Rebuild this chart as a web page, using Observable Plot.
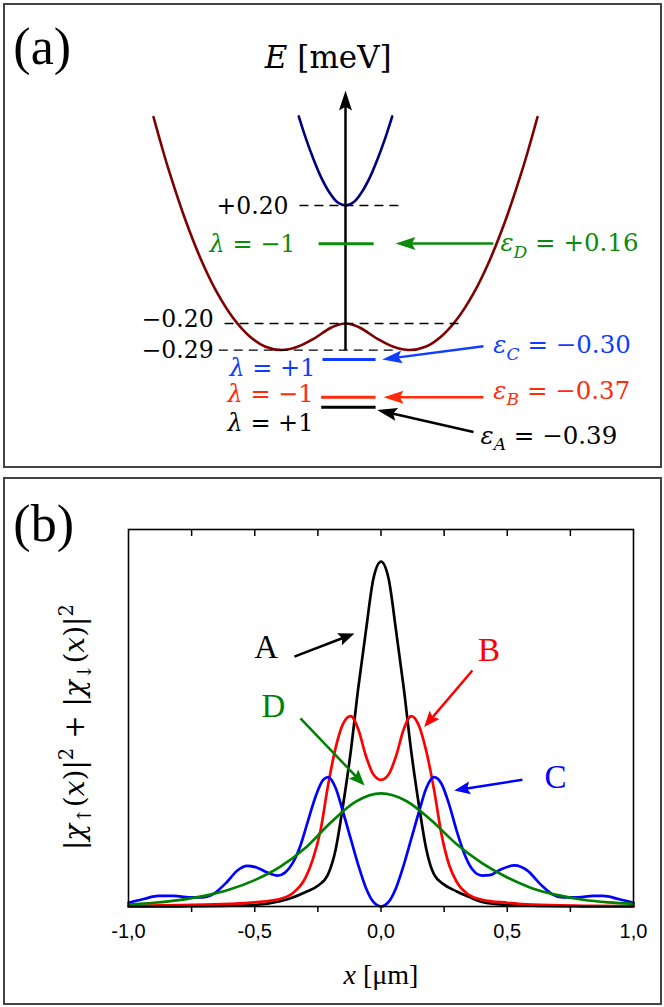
<!DOCTYPE html>
<html><head><meta charset="utf-8">
<script src="https://cdn.jsdelivr.net/npm/d3@7"></script>
<script src="https://cdn.jsdelivr.net/npm/@observablehq/plot@0.6"></script>
<style>
body{margin:0;background:#fff;}
#wrap{position:relative;width:664px;height:1007px;overflow:hidden;background:#fff;}
.box{position:absolute;border:2px solid #444;box-sizing:border-box;}
#pa{position:absolute;left:0;top:0;}
#pb{position:absolute;left:0;top:470px;}
</style></head><body><div id="wrap">
<div class="box" style="left:3px;top:3px;width:659px;height:465px"></div>
<div class="box" style="left:3px;top:477px;width:659px;height:528px"></div>
<div id="pa"></div><div id="pb"></div>
</div>
<script>
// ---------------- Panel (a): dispersion sketch ----------------
const lowerK = [-3.0,-2.875,-2.75,-2.5,-2.25,-2.0,-1.75,-1.5,-1.25,-1.0,-0.75,-0.5,-0.25,-0.125,0,0.125,0.25,0.5,0.75,1.0,1.25,1.5,1.75,2.0,2.25,2.5,2.75,2.875,3.0];
const lowerE = [0.50,0.403,0.312,0.150,0.013,-0.098,-0.183,-0.243,-0.279,-0.290,-0.279,-0.252,-0.217,-0.205,-0.200,-0.205,-0.217,-0.252,-0.279,-0.290,-0.279,-0.243,-0.183,-0.098,0.013,0.150,0.312,0.403,0.50];
const upperK = [-0.73,-0.625,-0.5,-0.375,-0.25,-0.125,0,0.125,0.25,0.375,0.5,0.625,0.73];
const upperE = [0.502,0.431,0.357,0.293,0.244,0.211,0.200,0.211,0.244,0.293,0.357,0.431,0.502];

const guideE = [0.20,-0.20,-0.29];
const guideK1 = [-0.72,-1.89,-1.98];
const guideK2 = [0.906,1.84,0.83];
const guideLabelK = [-0.89,-2.06,-2.06];
const guideLabelE = [0.198,-0.185,-0.29];

const axisBottomE = -0.29, axisTopE = 0.59;

const stateNames = ["D","C","B","A"];
const stateColors = ["#0b8a0b","#0f3cff","#ff2b0b","#000000"];
const stateEps = [0.16,-0.30,-0.37,-0.39];
const stateLambda = [-1,1,-1,1];
const levelE = [0.07,-0.322,-0.45,-0.484];       // schematic drawn level position
const levelK1 = [-0.42,-0.36,-0.38,-0.38];
const levelK2 = [0.44,0.47,0.47,0.47];
const lambdaK = [-0.78,-0.47,-0.50,-0.50];
const lambdaE = [0.07,-0.352,-0.440,-0.540];
const epsK = [2.42,2.31,2.31,2.11];
const epsE = [0.071,-0.275,-0.43,-0.583];
const arrFromK = [2.31,2.156,2.156,2.0];
const arrFromE = [0.0712,-0.277,-0.45,-0.568];
const arrToK = [0.78,0.573,0.594,0.495];
const arrToE = [0.0712,-0.322,-0.45,-0.493];

// ---------------- Panel (b): probability densities ----------------
const xA = [-1,-0.8,-0.6,-0.5,-0.4,-0.35,-0.3,-0.25,-0.21,-0.18,-0.15,-0.12,-0.09,-0.06,-0.03,0,0.03,0.06,0.09,0.12,0.15,0.18,0.21,0.25,0.3,0.35,0.4,0.5,0.6,0.8,1];
const yA = [0,0.0005,0.002,0.004,0.014,0.024,0.038,0.055,0.085,0.15,0.27,0.41,0.58,0.73,0.87,0.915,0.87,0.73,0.58,0.41,0.27,0.15,0.085,0.058,0.04,0.025,0.012,0.004,0.002,0.0005,0];
const xB = [-1,-0.8,-0.6,-0.5,-0.4,-0.35,-0.3,-0.27,-0.24,-0.21,-0.18,-0.15,-0.12,-0.09,-0.06,-0.03,0,0.03,0.06,0.09,0.12,0.15,0.18,0.21,0.24,0.27,0.3,0.35,0.4,0.5,0.6,0.8,1];
const yB = [0.002,0.004,0.007,0.011,0.02,0.035,0.075,0.125,0.2,0.32,0.42,0.485,0.505,0.47,0.40,0.35,0.336,0.35,0.40,0.47,0.505,0.48,0.41,0.31,0.19,0.11,0.065,0.03,0.018,0.010,0.005,0.002,0.001];
const xC = [-1,-0.94,-0.88,-0.82,-0.76,-0.71,-0.66,-0.61,-0.57,-0.53,-0.49,-0.45,-0.41,-0.38,-0.35,-0.32,-0.29,-0.26,-0.23,-0.21,-0.18,-0.15,-0.12,-0.09,-0.06,-0.03,0,0.03,0.06,0.09,0.12,0.15,0.18,0.21,0.24,0.27,0.30,0.33,0.36,0.40,0.43,0.47,0.53,0.58,0.63,0.68,0.72,0.78,0.84,0.88,0.94,1];
const yC = [0.01,0.02,0.028,0.028,0.024,0.024,0.035,0.065,0.095,0.108,0.103,0.09,0.082,0.09,0.115,0.16,0.225,0.29,0.335,0.343,0.315,0.25,0.18,0.11,0.05,0.012,0,0.012,0.05,0.11,0.18,0.25,0.315,0.343,0.325,0.27,0.20,0.14,0.10,0.082,0.083,0.097,0.109,0.095,0.06,0.032,0.024,0.024,0.028,0.028,0.02,0.01];
const xD = [-1,-0.9,-0.8,-0.7,-0.6,-0.5,-0.4,-0.3,-0.2,-0.1,0,0.1,0.2,0.3,0.4,0.5,0.6,0.7,0.8,0.9,1];
const yD = [0.005,0.01,0.017,0.028,0.045,0.07,0.105,0.155,0.222,0.278,0.30,0.28,0.228,0.165,0.115,0.077,0.048,0.03,0.018,0.011,0.007];
const curveColors = {A:"#000000", B:"#ff0000", C:"#0000ff", D:"#008000"};

const xMajor = [-1,-0.5,0,0.5,1];
const xMinor = [-0.75,-0.5,-0.25,0,0.25,0.5,0.75];

const annLabelX = [-0.455,0.428,0.691,-0.426];
const annLabelY = [0.688,0.679,0.343,0.53];
const annFromX = [-0.343,0.362,0.560,-0.319];
const annFromY = [0.663,0.626,0.336,0.499];
const annToX = [-0.105,0.171,0.29,-0.065];
const annToY = [0.724,0.476,0.308,0.321];
const annNames = ["A","B","C","D"];

// ---------------- helpers ----------------
const SERIF = "Liberation Serif, Times New Roman, serif";
const MATH = "DejaVu Serif, serif";
const SANS = "Liberation Sans, Arial, sans-serif";
const sgn = v => (v > 0 ? "+" : "\u2212") + Math.abs(v).toFixed(2);
const sgnInt = v => (v > 0 ? "+" : "\u2212") + Math.abs(v);

function arrowMarks(arrows, sx, sy, {len, half, width}) {
  const shafts = [], heads = [];
  arrows.forEach((a, i) => {
    const p1 = [sx.apply(a.x1), sy.apply(a.y1)], p2 = [sx.apply(a.x2), sy.apply(a.y2)];
    const dx = p2[0]-p1[0], dy = p2[1]-p1[1], L = Math.hypot(dx, dy);
    const ux = dx/L, uy = dy/L, nx = -uy, ny = ux;
    const bx = p2[0]-ux*len, by = p2[1]-uy*len;
    const notch = [p2[0]-ux*len*0.82, p2[1]-uy*len*0.82];
    const pts = [p2, [bx+nx*half, by+ny*half], notch, [bx-nx*half, by-ny*half]];
    pts.forEach(p => heads.push({id: i, x: sx.invert(p[0]), y: sy.invert(p[1]), color: a.color}));
    shafts.push({x1: a.x1, y1: a.y1, x2: sx.invert(notch[0]+ux*2), y2: sy.invert(notch[1]+uy*2), color: a.color});
  });
  return [
    Plot.link(shafts, {x1: "x1", y1: "y1", x2: "x2", y2: "y2", stroke: "color", strokeWidth: width, strokeLinecap: "butt"}),
    Plot.line(heads, {x: "x", y: "y", z: "id", fill: "color", stroke: "none", curve: "linear-closed"})
  ];
}

function parseRich(s) {
  const segs = []; let i = 0, italic = false, buf = "";
  const push = (text, it, shift) => { if (text) segs.push({text, italic: it, shift}); };
  while (i < s.length) {
    const c = s[i];
    if (c === "*") { push(buf, italic, 0); buf = ""; italic = !italic; i++; }
    else if ((c === "_" || c === "^") && s[i+1] === "{") {
      push(buf, italic, 0); buf = "";
      const j = s.indexOf("}", i);
      push(s.slice(i+2, j), c === "_", c === "_" ? 1 : -1);
      i = j + 1;
    } else { buf += c; i++; }
  }
  push(buf, italic, 0);
  return segs;
}
function richify(svg) {
  svg.querySelectorAll("text").forEach(t => {
    const s = t.textContent;
    if (!/[*]|_\{|\^\{/.test(s)) return;
    const fs = parseFloat(getComputedStyle(t).fontSize) || 16;
    const segs = parseRich(s);
    t.textContent = "";
    let cur = 0;
    segs.forEach(seg => {
      const ts = document.createElementNS("http://www.w3.org/2000/svg", "tspan");
      ts.textContent = seg.text;
      if (seg.italic) ts.setAttribute("font-style", "italic");
      const target = seg.shift === 1 ? 0.25*fs : seg.shift === -1 ? -0.4*fs : 0;
      if (seg.shift) ts.setAttribute("font-size", (0.7*fs) + "px");
      if (target !== cur) { ts.setAttribute("dy", target - cur); cur = target; }
      t.appendChild(ts);
    });
  });
}

// ---------------- build panel (a) ----------------
const axOpt = {domain: [-1, 1], range: [281, 409]};
const ayOpt = {domain: [-0.2, 0.2], range: [323, 205]};
const sxA = Plot.scale({x: axOpt}), syA = Plot.scale({y: ayOpt});

const lowerData = lowerK.map((k, i) => ({k, E: lowerE[i]}));
const upperData = upperK.map((k, i) => ({k, E: upperE[i]}));
const guides = guideE.map((E, i) => ({E, k1: guideK1[i], k2: guideK2[i], lk: guideLabelK[i], lE: guideLabelE[i], label: sgn(E)}));
const states = stateNames.map((n, i) => ({
  n, color: stateColors[i], E: levelE[i], k1: levelK1[i], k2: levelK2[i],
  lk: lambdaK[i], lE: lambdaE[i], lt: "*λ* = " + sgnInt(stateLambda[i]),
  ek: epsK[i], eE: epsE[i], et: "*ε*_{" + n + "} = " + sgn(stateEps[i])
}));
const arrowsA = states.map((s, i) => ({x1: arrFromK[i], y1: arrFromE[i], x2: arrToK[i], y2: arrToE[i], color: s.color}));
const axisArrow = [{x1: 0, y1: axisBottomE, x2: 0, y2: axisTopE, color: "#000"}];

const plotA = Plot.plot({
  width: 664, height: 470, margin: 0,
  x: {...axOpt, axis: null}, y: {...ayOpt, axis: null},
  color: {type: "identity"},
  style: {background: "transparent", overflow: "visible"},
  marks: [
    Plot.line(lowerData, {x: "k", y: "E", stroke: "#7f0000", strokeWidth: 2.6, curve: "catmull-rom"}),
    Plot.line(upperData, {x: "k", y: "E", stroke: "#00007f", strokeWidth: 2.6, curve: "catmull-rom"}),
    Plot.link(guides, {x1: "k1", x2: "k2", y1: "E", y2: "E", stroke: "#000", strokeWidth: 1.3, strokeDasharray: "9,6"}),
    ...arrowMarks(axisArrow, sxA, syA, {len: 20, half: 6.5, width: 2.5}),
    Plot.link(states, {x1: "k1", x2: "k2", y1: "E", y2: "E", stroke: "color", strokeWidth: 3}),
    ...arrowMarks(arrowsA, sxA, syA, {len: 20, half: 6.5, width: 2.5}),
    Plot.text(guides, {x: "lk", y: "lE", text: "label", textAnchor: "end", fontSize: 23.5, fontFamily: MATH, fill: "#000"}),
    Plot.text(states, {x: "lk", y: "lE", text: "lt", textAnchor: "end", fontSize: 24, fontFamily: MATH, fill: "color"}),
    Plot.text(states, {x: "ek", y: "eE", text: "et", textAnchor: "start", fontSize: 24.5, fontFamily: MATH, fill: "color"}),
    Plot.text(["*E* [meV]"], {x: -0.27, y: 0.70, text: d => d, fontSize: 31, fontFamily: MATH, fill: "#000"}),
    Plot.text(["(a)"], {x: -5.19, y: 0.736, text: d => d, textAnchor: "start", fontSize: 52, fontFamily: SERIF, fill: "#000"})
  ]
});
document.getElementById("pa").appendChild(plotA);
richify(plotA);

// ---------------- build panel (b) ----------------
const mB = {marginLeft: 128, marginRight: 31, marginTop: 59, marginBottom: 101};
const hB = 537;
const sxB = Plot.scale({x: {domain: [-1, 1], range: [mB.marginLeft, 664 - mB.marginRight]}});
const syB = Plot.scale({y: {domain: [0, 1], range: [hB - mB.marginBottom, mB.marginTop]}});
const tickIn = syB.invert(mB.marginTop + 7);
const tickOut = syB.invert(hB - mB.marginBottom + 6);

const series = [
  ...xA.map((x, i) => ({s: "A", x, y: yA[i]})),
  ...xB.map((x, i) => ({s: "B", x, y: yB[i]})),
  ...xC.map((x, i) => ({s: "C", x, y: yC[i]})),
  ...xD.map((x, i) => ({s: "D", x, y: yD[i]}))
];
const anns = annNames.map((n, i) => ({n, color: curveColors[n], lx: annLabelX[i], ly: annLabelY[i]}));
const arrowsB = annNames.map((n, i) => ({x1: annFromX[i], y1: annFromY[i], x2: annToX[i], y2: annToY[i], color: curveColors[n]}));

const plotB = Plot.plot({
  width: 664, height: hB, ...mB,
  x: {domain: [-1, 1], axis: null}, y: {domain: [0, 1], axis: null},
  color: {type: "identity"},
  style: {background: "transparent", overflow: "visible"},
  marks: [
    Plot.line(series, {x: "x", y: "y", z: "s", stroke: d => curveColors[d.s], strokeWidth: 2.7, curve: "monotone-x"}),
    Plot.frame({stroke: "#000", strokeWidth: 1.6}),
    Plot.ruleX(xMinor, {x: d => d, y1: 1, y2: tickIn, stroke: "#000", strokeWidth: 1.5}),
    Plot.ruleX(xMinor, {x: d => d, y1: 0, y2: tickOut, stroke: "#000", strokeWidth: 1.5}),
    Plot.text(xMajor, {x: d => d, y: 0, dy: 25, text: d => d.toFixed(1).replace(".", ","), fontSize: 20, fontFamily: SANS, fill: "#000"}),
    Plot.text(["*x* [μm]"], {x: 0, y: -0.183, text: d => d, fontSize: 28, fontFamily: SERIF, fill: "#000"}),
    Plot.text(["|*χ*_{↑}(*x*)|^{2} + |*χ*_{↓}(*x*)|^{2}"], {x: -1.21, y: 0.476, text: d => d, rotate: -90, fontSize: 28, fontFamily: MATH, fill: "#000"}),
    ...arrowMarks(arrowsB, sxB, syB, {len: 16, half: 6.5, width: 2.5}),
    Plot.text(anns, {x: "lx", y: "ly", text: "n", fill: "color", fontSize: 33, fontFamily: SERIF}),
    Plot.text(["(b)"], {x: -1.456, y: 1.013, text: d => d, textAnchor: "start", fontSize: 52, fontFamily: SERIF, fill: "#000"})
  ]
});
document.getElementById("pb").appendChild(plotB);
richify(plotB);
</script>
</body></html>
